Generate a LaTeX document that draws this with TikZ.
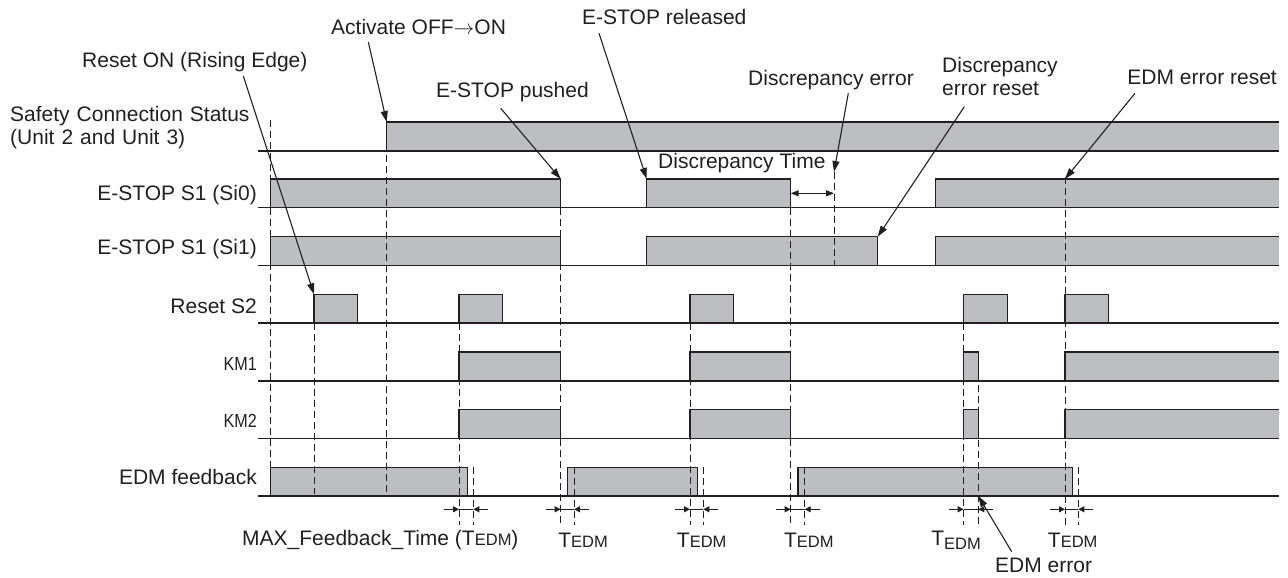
\documentclass[tikz,border=0pt]{standalone}
\usepackage{fontspec}
\setmainfont{Liberation Sans}
\usetikzlibrary{arrows.meta}
\definecolor{sig}{RGB}{188,190,193}
\definecolor{ink}{RGB}{35,31,32}
\newcommand\tedm{T{\fontsize{16.5}{18}\selectfont EDM}}
\newcommand\tedmsub{T\raisebox{-4pt}{\fontsize{16.5}{18}\selectfont EDM}}
\newcommand\pfill[4]{\fill[sig] (#3,#1) rectangle (#4,#2);}
\newcommand\pedge[4]{\draw[edge] (#3,#1) -- (#3,#2) -- (#4,#2) -- (#4,#1);}
\newcommand\pedgeopen[3]{\draw[edge] (#3,#1) -- (#3,#2) -- (1279,#2);}
\begin{document}
\begin{tikzpicture}[x=1pt,y=-1pt,
  lbl/.style={font=\fontsize{21}{24}\selectfont, inner sep=0pt, text=ink},
  kmlbl/.style={lbl, font=\fontsize{19}{22}\selectfont},
  edge/.style={draw=ink, line width=1.2pt, line join=miter},
  baseln/.style={draw=ink, line width=1.2pt},
  dsh/.style={draw=ink, line width=1pt, dash pattern=on 7pt off 4pt},
  callout/.style={draw=ink, line width=1.1pt, -{Triangle[length=11pt,width=7pt]}},
  tarr/.style={draw=ink, line width=0.9pt, -{Triangle[length=6pt,width=6pt]}},
  tline/.style={draw=ink, line width=0.9pt},
  darr/.style={draw=ink, line width=1.1pt, {Triangle[length=8pt,width=6pt]}-{Triangle[length=8pt,width=6pt]}}
]
\useasboundingbox (0,0) rectangle (1288,578);

% ---------- fills ----------
\fill[sig] (386.7,151) rectangle (1279,122);
\pfill{207.7}{179}{270.7}{560.7}
\pfill{207.7}{179}{646.7}{790.7}
\pfill{207.7}{179}{935.3}{1279}
\pfill{265.7}{236.7}{270.7}{560.7}
\pfill{265.7}{236.7}{646.7}{877.7}
\pfill{265.7}{236.7}{935.3}{1279}
\pfill{323}{294.3}{314}{357.3}
\pfill{323}{294.3}{459}{502.7}
\pfill{323}{294.3}{690}{733.3}
\pfill{323}{294.3}{963.7}{1007.3}
\pfill{323}{294.3}{1065}{1108.3}
\pfill{381}{352}{459}{560.7}
\pfill{381}{352}{690}{790.7}
\pfill{381}{352}{963.7}{978.3}
\pfill{381}{352}{1065}{1279}
\pfill{438.3}{409.7}{459}{560.7}
\pfill{438.3}{409.7}{690}{790.7}
\pfill{438.3}{409.7}{963.7}{978.3}
\pfill{438.3}{409.7}{1065}{1279}
\pfill{496}{467.3}{270.7}{467.3}
\pfill{496}{467.3}{567.3}{697.3}
\pfill{496}{467.3}{798}{1072.3}

% ---------- dashed guide lines ----------
\foreach \x/\ya/\yb in {270.7/120/467.3, 314/323/494, 386.7/122/494,
  459/323/525, 473.3/467.3/525, 560.7/207.7/525, 574/467.3/525,
  690/323/525, 703.3/467.3/525, 790.7/207.7/525, 804.7/467.3/525,
  834/172/265.7, 963.7/323/525, 978.3/352/525, 1065/177/525, 1078.3/467.3/525}
  \draw[dsh] (\x,\ya) -- (\x,\yb);

% ---------- base lines ----------
\foreach \y in {151,207.7,265.7,323,381,438.3,496}
  \draw[baseln] (258,\y) -- (1279,\y);

% ---------- outlines ----------
\pedgeopen{151}{122}{386.7}
\pedge{207.7}{179}{270.7}{560.7}
\pedge{207.7}{179}{646.7}{790.7}
\pedgeopen{207.7}{179}{935.3}
\pedge{265.7}{236.7}{270.7}{560.7}
\pedge{265.7}{236.7}{646.7}{877.7}
\pedgeopen{265.7}{236.7}{935.3}
\pedge{323}{294.3}{314}{357.3}
\pedge{323}{294.3}{459}{502.7}
\pedge{323}{294.3}{690}{733.3}
\pedge{323}{294.3}{963.7}{1007.3}
\pedge{323}{294.3}{1065}{1108.3}
\pedge{381}{352}{459}{560.7}
\pedge{381}{352}{690}{790.7}
\pedge{381}{352}{963.7}{978.3}
\pedgeopen{381}{352}{1065}
\pedge{438.3}{409.7}{459}{560.7}
\pedge{438.3}{409.7}{690}{790.7}
\pedge{438.3}{409.7}{963.7}{978.3}
\pedgeopen{438.3}{409.7}{1065}
\pedge{496}{467.3}{270.7}{467.3}
\pedge{496}{467.3}{567.3}{697.3}
\pedge{496}{467.3}{798}{1072.3}

% ---------- row labels ----------
\node[lbl, anchor=west, align=left, text width=260pt] (lsafe) at (10,127.5)
  {Safety Connection Status\\[-1pt](Unit 2 and Unit 3)};
\node[lbl, anchor=east] (lsi0) at (257,195) {E-STOP S1 (Si0)};
\node[lbl, anchor=east] (lsi1) at (257,249) {E-STOP S1 (Si1)};
\node[lbl, anchor=east] (lres) at (257,306) {Reset S2};
\node[kmlbl, anchor=east] (lkm1) at (257,364) {\scalebox{0.85}[1]{KM1}};
\node[kmlbl, anchor=east] (lkm2) at (257,421) {\scalebox{0.85}[1]{KM2}};
\node[lbl, anchor=east] (ledm) at (257,477) {EDM feedback};

% ---------- callouts ----------
\node[lbl, anchor=west] (tact) at (331,27) {Activate OFF$\rightarrow$ON};
\coordinate (sact) at (368.3,42);
\coordinate (eact) at (386.7,122);
\draw[callout] (sact) -- (eact);

\node[lbl, anchor=west] (treset) at (82,62) {Reset ON (Rising Edge)};
\coordinate (sreset) at (243.3,76);
\coordinate (ereset) at (314,294.3);
\draw[callout] (sreset) -- (ereset);

\node[lbl, anchor=west] (tpush) at (436,92) {E-STOP pushed};
\coordinate (spush) at (500.7,108.3);
\coordinate (epush) at (560.7,179);
\draw[callout] (spush) -- (epush);

\node[lbl, anchor=west] (trel) at (582,17) {E-STOP released};
\coordinate (srel) at (599,33.3);
\coordinate (erel) at (646.7,179);
\draw[callout] (srel) -- (erel);

\node[lbl, anchor=west] (tdt) at (658,163) {Discrepancy Time};
\coordinate (dta) at (790.7,193.3);
\coordinate (dtb) at (834,193.3);
\draw[darr] (dta) -- (dtb);

\node[lbl, anchor=west] (tderr) at (748,80) {Discrepancy error};
\coordinate (sderr) at (848.3,93.3);
\coordinate (ederr) at (834,172);
\draw[callout] (sderr) -- (ederr);

\node[lbl, anchor=west, align=left] (tdres) at (942,76.5) {Discrepancy\\[-1pt]error reset};
\coordinate (sdres) at (964.3,106.7);
\coordinate (edres) at (877.7,236.7);
\draw[callout] (sdres) -- (edres);

\node[lbl, anchor=east] (tedmres) at (1277,77) {EDM error reset};
\coordinate (sedmres) at (1135,93.3);
\coordinate (eedmres) at (1065,179);
\draw[callout] (sedmres) -- (eedmres);

\node[lbl, anchor=west] (tedmerr) at (995,565) {EDM error};
\coordinate (sedmerr) at (1011.7,551.7);
\coordinate (eedmerr) at (978.3,496);
\draw[callout] (sedmerr) -- (eedmerr);

% ---------- T_EDM markers ----------
\foreach \a/\b [count=\i] in {459/473.3, 560.7/574, 690/703.3, 790.7/804.7, 963.7/978.3, 1065/1078.3} {
  \coordinate (ta\i) at (\a,509.3);
  \coordinate (tb\i) at (\b,509.3);
  \draw[tarr] ([xshift=-15pt]ta\i) -- (ta\i);
  \draw[tarr] ([xshift=15pt]tb\i) -- (tb\i);
  \draw[tline] (ta\i) -- (tb\i);
}
\node[lbl, anchor=west] (tmax) at (242,540) {MAX\_Feedback\_Time (\tedm)};
\node[lbl] (te2) at (583,540) {\tedm};
\node[lbl] (te3) at (701.7,540) {\tedm};
\node[lbl] (te4) at (808.8,540) {\tedm};
\node[lbl] (te5) at (956,540) {\tedmsub};
\node[lbl] (te6) at (1072.7,540) {\tedm};
\end{tikzpicture}
\end{document}
